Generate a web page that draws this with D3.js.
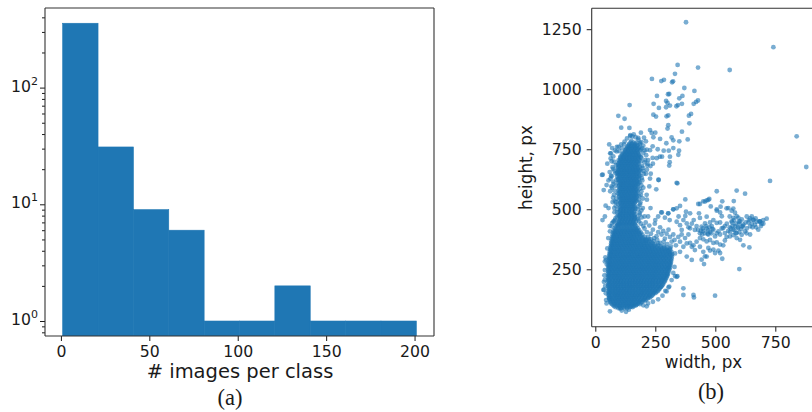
<!DOCTYPE html>
<html>
<head>
<meta charset="utf-8">
<script src="https://cdn.jsdelivr.net/npm/d3@7"></script>
<style>
  html, body { margin: 0; padding: 0; background: #fff; }
  svg { display: block; }
  text { font-family: "DejaVu Sans", sans-serif; fill: #1a1a1a; }
  .caption { font-family: "Liberation Serif", "Times New Roman", serif; }
</style>
</head>
<body>
<svg id="fig" width="812" height="412"></svg>
<script>
// ---------- (a) histogram of images per class ----------
const binEdges = [1, 21, 41, 61, 81, 101, 121, 141, 161, 181, 201];
const classCounts = [356, 31, 9, 6, 1, 1, 2, 1, 1, 1];
const histXTicks = [0, 50, 100, 150, 200];
const histYTicks = [1, 10, 100];
const histYExponents = ["0", "1", "2"];

// ---------- (b) image width vs height, px ----------
const sizeXTicks = [0, 250, 500, 750];
const sizeYTicks = [250, 500, 750, 1000, 1250];

// scattered images: upper cloud, outliers
const upperSizes = [
  [378,1279],[742,1175],[343,1101],[560,1080],[428,1090],[332,1064],[236,1043],[275,1034],[286,1039],[324,1033],[320,1029],
  [371,1005],[413,993],[257,972],[308,980],[303,979],[363,972],[350,962],[428,953],[420,947],[410,939],[243,939],[295,951],
  [301,943],[311,932],[338,929],[344,934],[361,939],[265,922],[295,925],[143,934],[242,894],[253,886],[304,891],[297,887],
  [399,897],[390,890],[96,889],[122,877],[108,840],[142,839],[304,850],[301,836],[392,858],[361,823],[228,830],[235,818],
  [250,819],[146,809],[154,803],[190,819],[203,798],[242,800],[270,793],[325,787],[385,791],[296,775],[260,750],[228,746],
  [285,744],[306,744],[349,744],[311,719],[278,719],[269,719],[239,714],[217,682],[231,648],[211,648],[310,696],[308,682],
  [264,622],[342,608],[254,583],[728,618],[839,804],[879,676],[65,733],[28,643],
  [256,713],[346,727],[89,741],[186,776],[211,783],[179,797],[318,799],[350,783],[239,762],[325,755]
];

// images along the right arm (landscape) and the bridge to it
const wideSizes = [
  [205,420],[215,405],[225,432],[232,398],[240,415],[248,440],[255,388],[262,405],[270,425],[276,395],[283,410],[290,378],
  [297,398],[305,415],[311,385],[318,365],[325,395],[330,372],[336,350],[315,345],[300,355],[285,365],[270,360],[258,372],
  [245,380],[232,375],[220,385],[210,370],[250,455],[262,470],[275,487],[290,465],[304,483],[310,455],[325,500],[339,448],
  [347,470],[353,434],[360,414],[367,455],[375,472],[381,441],[388,425],[395,421],[402,440],[410,455],[415,414],[422,430],
  [429,414],[436,400],[443,428],[450,410],[457,441],[464,420],[471,395],[478,405],[485,430],[492,415],[499,387],[506,400],
  [513,408],[520,395],[527,420],[533,422],[540,401],[547,385],[554,410],[561,387],[568,450],[575,415],[582,430],[589,401],
  [596,422],[603,450],[610,394],[617,436],[624,408],[631,420],[638,445],[645,429],[652,440],[658,457],[665,436],[672,448],
  [679,415],[686,450],[693,440],[700,455],[714,461],[589,380],[603,373],[575,392],[561,405],[540,370],[533,350],[520,353],
  [506,362],[492,360],[478,372],[471,339],[464,366],[450,375],[436,380],[422,365],[409,350],[402,344],[395,360],[381,358],
  [367,344],[353,365],[346,385],[360,395],[374,380],[388,395],[415,330],[436,344],[450,323],[464,303],[443,290],[453,272],
  [457,304],[478,328],[492,332],[513,328],[520,318],[529,294],[499,318],[381,303],[402,289],[353,323],[332,316],[311,337],
  [617,350],[642,341],[600,251],[499,140],[367,171],[367,143],[409,143],[411,133],[308,178],[339,219],[277,205],[274,177],
  [332,222],[645,462],[659,455],[686,448],[683,450],[568,494],[582,486],[547,504],[522,511],[506,500],[575,503],[554,505],
  [520,487],[527,471],[506,494],[481,512],[475,543],[464,537],[450,533],[436,522],[529,533],[577,534],[589,578],[624,565],
  [506,575],[432,483],[395,483],[378,490],[353,514],[339,504],[325,500],[304,483],[277,487],[429,522],[457,532],[471,539],
  [375,541],[436,464],[575,464],[589,471],[596,465],[610,458],[631,470],[652,470],[668,462],[560,470],[548,440],[520,445],
  [506,443],[492,455],[478,445],[464,469],[600,440],[612,428],[626,445],[640,455],[655,425],[670,425],[690,430],[700,440],
  [630,400],[645,395],[540,430],[560,425],
  [440,410],[448,420],[456,400],[462,430],[470,412],[476,425],[484,400],[488,418],[445,395],[468,398],[565,420],[572,430],
  [580,412],[586,440],[594,425],[600,405],[608,418],[615,430],[570,445],[598,448],[585,400],[578,455]
];

// loose images around the tall arm and the main cluster
const fringeSizes = [
  [62,733],[50,690],[68,700],[75,720],[82,745],[90,760],[72,675],[60,655],[80,660],[66,640],[55,620],[75,615],[85,598],
  [70,590],[62,575],[78,560],[88,545],[72,530],[85,515],[92,500],[80,488],[90,470],[82,455],[70,442],[60,430],[190,700],
  [195,680],[200,660],[188,640],[196,620],[192,600],[185,585],[190,560],[182,540],[186,520],[178,500],[184,485],[176,465],
  [182,450],[190,440],[205,745],[212,725],[208,705],[218,690],[200,765],[192,780],[180,790],[150,785],[120,770],[110,755],
  [100,742],[47,601],[35,580],[43,515],[55,505],[40,470],[30,455],[228,628],[263,623],[339,610],[214,560],[205,470],
  [198,505],[31,644],[68,637],[82,533],[78,450],[68,429],[61,408],[54,380],
  [58,770],[70,755],[64,712],[78,698],[86,684],[74,668],[84,650],[63,628],[76,606],[88,622],[67,595],[80,578],[93,566],
  [74,548],[86,530],[95,520],[79,505],[91,488],[96,475],[84,462],[75,448],[95,435],[186,770],[195,755],[200,735],[214,748],
  [192,715],[205,695],[198,672],[188,660],[202,648],[194,630],[185,612],[200,590],[192,575],[183,555],[198,545],[188,528],
  [180,512],[192,495],[185,478],[178,458],[193,466],[200,430],[210,445],[168,800],[145,805],[132,795],[160,812],[122,782],
  [108,770],[97,760],[220,705],[230,680],[215,665],[240,690],[225,595],[215,540],[230,505],[220,470],
  [50,337],[45,289],[40,247],[36,198],[34,164],[45,122],[47,108],[42,300],[38,225],[44,150],[48,270],[41,180],[40,283],
  [36,165],[40,207],[128,73],[103,87],[110,78],[140,82],[150,95],[170,100],[185,105],[61,75],[214,96],[330,260],[325,235],
  [318,205],[305,175],[292,160],[280,140],[262,125],[240,115],[220,108],[200,100],[297,158],[342,221]
];

// dense column of tall images: [height, widths...]
const armRows = [
  [430, 86, 98, 110, 122, 134, 146, 158, 171],
  [439, 92, 104, 116, 128, 140, 152, 164],
  [448, 97, 109, 121, 133, 145, 157, 169],
  [457, 102, 114, 126, 138, 150, 162],
  [466, 106, 118, 130, 142, 154, 165],
  [475, 103, 115, 127, 139, 151, 163],
  [484, 107, 119, 131, 143, 155],
  [493, 104, 116, 128, 140, 152, 164],
  [502, 108, 120, 132, 144, 156, 167],
  [511, 105, 117, 129, 141, 153, 165],
  [520, 109, 121, 133, 145, 157],
  [529, 104, 116, 128, 140, 152, 164],
  [538, 100, 112, 124, 136, 148, 160, 172],
  [547, 106, 118, 130, 142, 154, 166],
  [556, 101, 113, 125, 137, 149, 161, 174],
  [565, 97, 109, 121, 133, 145, 157, 169],
  [574, 103, 115, 127, 139, 151, 163, 176],
  [583, 99, 111, 123, 135, 147, 159, 171],
  [592, 104, 116, 128, 140, 152, 164, 177],
  [601, 100, 112, 124, 136, 148, 160, 172],
  [610, 95, 107, 119, 131, 143, 155, 167, 180],
  [619, 101, 113, 125, 137, 149, 161, 173],
  [628, 96, 108, 120, 132, 144, 156, 168, 181],
  [637, 91, 103, 115, 127, 139, 151, 163, 175],
  [646, 97, 109, 121, 133, 145, 157, 169, 182],
  [655, 92, 104, 116, 128, 140, 152, 164, 176],
  [664, 98, 110, 122, 134, 146, 158, 170, 184],
  [673, 94, 106, 118, 130, 142, 154, 166, 178],
  [682, 100, 112, 124, 136, 148, 160, 172],
  [691, 96, 108, 120, 132, 144, 156, 168, 181],
  [700, 102, 114, 126, 138, 150, 162, 174],
  [709, 108, 120, 132, 144, 156, 168, 180],
  [718, 104, 116, 128, 140, 152, 164, 176, 189],
  [727, 111, 123, 135, 147, 159, 171, 183],
  [736, 118, 130, 142, 154, 166, 178],
  [745, 124, 136, 148, 160, 172, 185],
  [754, 130, 142, 154, 166, 178],
  [763, 136, 148, 160, 172],
  [772, 141, 153, 166],
  // second pass, between the rows above
  [434, 92, 104, 116, 128, 140, 152, 165],
  [443, 98, 110, 122, 134, 146, 158],
  [452, 100, 112, 124, 136, 148, 160],
  [461, 104, 116, 128, 140, 152, 164],
  [470, 100, 112, 124, 136, 148, 160],
  [479, 105, 117, 129, 141, 153, 166],
  [488, 101, 113, 125, 137, 149, 161],
  [497, 106, 118, 130, 142, 154],
  [506, 102, 114, 126, 138, 150, 162],
  [515, 111, 123, 135, 147, 159],
  [524, 103, 115, 127, 139, 151, 163],
  [533, 110, 122, 134, 146, 158, 170],
  [542, 106, 118, 130, 142, 154, 166],
  [551, 100, 112, 124, 136, 148, 160, 172],
  [560, 107, 119, 131, 143, 155, 167],
  [569, 103, 115, 127, 139, 151, 163, 175],
  [578, 97, 109, 121, 133, 145, 157, 169],
  [587, 105, 117, 129, 141, 153, 165],
  [596, 98, 110, 122, 134, 146, 158, 170],
  [605, 106, 118, 130, 142, 154, 166, 178],
  [614, 101, 113, 125, 137, 149, 161, 174],
  [623, 95, 107, 119, 131, 143, 155, 167, 180],
  [632, 102, 114, 126, 138, 150, 162, 174],
  [641, 97, 109, 121, 133, 145, 157, 169, 183],
  [650, 91, 103, 115, 127, 139, 151, 163, 175],
  [659, 98, 110, 122, 134, 146, 158, 170, 182],
  [668, 93, 105, 117, 129, 141, 153, 165, 177],
  [677, 100, 112, 124, 136, 148, 160, 172, 185],
  [686, 94, 106, 118, 130, 142, 154, 166, 178],
  [695, 102, 114, 126, 138, 150, 162, 175],
  [704, 97, 109, 121, 133, 145, 157, 169, 183],
  [713, 104, 116, 128, 140, 152, 164, 177],
  [722, 110, 122, 134, 146, 158, 170, 182],
  [731, 117, 129, 141, 153, 165, 178],
  [740, 124, 136, 148, 160, 172],
  [749, 128, 140, 152, 164, 176, 190],
  [758, 134, 146, 158, 170, 183],
  [767, 140, 152, 164, 176],
  [777, 147, 159, 171]
];

// dense main cluster of small images: [height, widths...]
const blobRows = [
  [88, 96, 108, 121, 133],
  [97, 78, 90, 101, 113, 126, 138, 150, 161],
  [106, 68, 80, 93, 104, 117, 129, 140, 152, 165, 176],
  [115, 62, 74, 86, 98, 111, 123, 134, 147, 158, 171, 183, 195],
  [124, 59, 69, 81, 93, 105, 116, 129, 141, 152, 164, 176, 189, 201, 212],
  [133, 57, 64, 76, 88, 99, 111, 123, 135, 147, 159, 170, 182, 195, 207, 219, 228],
  [142, 55, 70, 82, 93, 105, 117, 129, 141, 153, 165, 177, 188, 200, 213, 225, 238],
  [151, 56, 64, 76, 87, 99, 111, 123, 135, 146, 158, 171, 183, 194, 206, 219, 231, 244, 251],
  [160, 54, 69, 81, 93, 104, 116, 128, 140, 152, 164, 176, 188, 200, 212, 224, 236, 249, 261],
  [169, 55, 63, 75, 87, 98, 110, 122, 134, 146, 158, 170, 182, 194, 206, 218, 230, 243, 255, 268],
  [178, 53, 68, 80, 92, 104, 116, 128, 140, 151, 163, 175, 187, 199, 211, 223, 236, 248, 261, 275],
  [187, 54, 62, 74, 86, 98, 110, 121, 133, 145, 157, 169, 181, 193, 205, 217, 229, 241, 254, 267, 282],
  [196, 52, 67, 79, 91, 103, 115, 127, 139, 151, 163, 175, 187, 199, 211, 223, 235, 247, 260, 273, 287],
  [205, 53, 61, 73, 85, 97, 109, 121, 133, 145, 157, 169, 181, 193, 205, 217, 229, 241, 253, 266, 279, 292],
  [214, 52, 67, 79, 91, 103, 115, 127, 139, 151, 163, 175, 187, 199, 211, 223, 235, 247, 259, 272, 285, 296],
  [223, 53, 60, 72, 84, 96, 108, 120, 132, 144, 156, 168, 180, 192, 204, 216, 228, 240, 252, 265, 278, 290, 300],
  [232, 52, 66, 78, 90, 102, 114, 126, 138, 150, 162, 174, 186, 198, 210, 222, 234, 246, 258, 271, 284, 297, 303],
  [241, 54, 61, 73, 85, 97, 109, 121, 133, 145, 157, 169, 181, 193, 205, 217, 229, 241, 253, 265, 278, 291, 306],
  [250, 53, 67, 79, 91, 103, 115, 127, 139, 151, 163, 175, 187, 199, 211, 223, 235, 247, 259, 272, 285, 298, 309],
  [259, 55, 62, 74, 86, 98, 110, 122, 134, 146, 158, 170, 182, 194, 206, 218, 230, 242, 254, 266, 279, 292, 304, 311],
  [268, 54, 68, 80, 92, 104, 116, 128, 140, 152, 164, 176, 188, 200, 212, 224, 236, 248, 260, 273, 286, 299, 313],
  [277, 56, 63, 75, 87, 99, 111, 123, 135, 147, 159, 171, 183, 195, 207, 219, 231, 243, 255, 267, 280, 293, 306, 315],
  [286, 55, 69, 81, 93, 105, 117, 129, 141, 153, 165, 177, 189, 201, 213, 225, 237, 249, 261, 274, 287, 300, 316],
  [295, 57, 64, 76, 88, 100, 112, 124, 136, 148, 160, 172, 184, 196, 208, 220, 232, 244, 256, 268, 281, 294, 307, 318],
  [304, 58, 70, 82, 94, 106, 118, 130, 142, 154, 166, 178, 190, 202, 214, 226, 238, 250, 262, 275, 288, 301, 319],
  [313, 59, 66, 78, 90, 102, 114, 126, 138, 150, 162, 174, 186, 198, 210, 222, 234, 246, 258, 270, 283, 296, 309, 320],
  [322, 60, 72, 84, 96, 108, 120, 132, 144, 156, 168, 180, 192, 204, 216, 228, 240, 252, 264, 277, 290, 304, 317],
  [331, 62, 68, 80, 92, 104, 116, 128, 140, 152, 164, 176, 188, 200, 212, 224, 236, 248, 261, 274, 288, 301, 312],
  [340, 63, 74, 86, 98, 110, 122, 134, 146, 158, 170, 182, 194, 206, 218, 230, 243, 257, 272, 287, 300],
  [349, 65, 71, 83, 95, 107, 119, 131, 143, 155, 167, 179, 191, 203, 216, 229, 244, 262, 285],
  [358, 66, 77, 89, 101, 113, 125, 137, 149, 161, 173, 185, 197, 210, 224, 240, 262],
  [367, 67, 74, 86, 98, 110, 122, 134, 146, 158, 170, 182, 195, 209, 225, 243],
  [376, 69, 80, 92, 104, 116, 128, 140, 152, 164, 177, 191, 207, 224],
  [385, 71, 78, 90, 102, 114, 126, 138, 150, 162, 175, 189, 206],
  [394, 72, 84, 96, 108, 120, 132, 144, 156, 168, 181, 196],
  [403, 74, 82, 94, 106, 118, 130, 142, 154, 167, 180, 190],
  [412, 77, 89, 101, 113, 125, 137, 149, 161, 173, 183],
  [421, 82, 94, 106, 118, 130, 142, 154, 166, 177],
  // second pass, between the rows above
  [93, 84, 102, 119, 132, 144, 156],
  [102, 73, 85, 97, 110, 122, 134, 146, 158, 170],
  [111, 65, 80, 92, 105, 117, 129, 141, 154, 166, 180, 190],
  [120, 62, 75, 87, 99, 112, 124, 136, 149, 161, 173, 186, 200, 208],
  [129, 58, 70, 82, 94, 106, 118, 130, 142, 155, 167, 179, 192, 206, 220],
  [138, 60, 76, 88, 100, 112, 124, 136, 148, 160, 172, 184, 197, 210, 224, 233],
  [147, 58, 70, 82, 94, 106, 118, 130, 142, 154, 166, 178, 190, 202, 214, 226, 240],
  [156, 60, 74, 86, 98, 110, 122, 134, 146, 158, 170, 182, 194, 206, 218, 230, 243, 255],
  [165, 58, 70, 82, 94, 106, 118, 130, 142, 154, 166, 178, 190, 202, 214, 226, 238, 250, 264],
  [174, 60, 73, 85, 97, 109, 121, 133, 145, 157, 169, 181, 193, 205, 217, 229, 242, 256, 270],
  [183, 57, 69, 81, 93, 105, 117, 129, 141, 153, 165, 177, 189, 201, 213, 225, 237, 250, 263, 278],
  [192, 59, 72, 84, 96, 108, 120, 132, 144, 156, 168, 180, 192, 204, 216, 228, 240, 253, 266, 280],
  [201, 57, 70, 82, 94, 106, 118, 130, 142, 154, 166, 178, 190, 202, 214, 226, 238, 250, 263, 276, 288],
  [210, 58, 73, 85, 97, 109, 121, 133, 145, 157, 169, 181, 193, 205, 217, 229, 241, 253, 266, 279, 291],
  [219, 57, 66, 78, 90, 102, 114, 126, 138, 150, 162, 174, 186, 198, 210, 222, 234, 246, 258, 271, 284, 296],
  [228, 58, 72, 84, 96, 108, 120, 132, 144, 156, 168, 180, 192, 204, 216, 228, 240, 252, 264, 277, 290, 300],
  [237, 57, 67, 79, 91, 103, 115, 127, 139, 151, 163, 175, 187, 199, 211, 223, 235, 247, 259, 272, 285, 299],
  [246, 59, 73, 85, 97, 109, 121, 133, 145, 157, 169, 181, 193, 205, 217, 229, 241, 253, 265, 278, 292, 303],
  [255, 58, 68, 80, 92, 104, 116, 128, 140, 152, 164, 176, 188, 200, 212, 224, 236, 248, 260, 273, 286, 300, 307],
  [264, 60, 74, 86, 98, 110, 122, 134, 146, 158, 170, 182, 194, 206, 218, 230, 242, 254, 266, 279, 292, 306],
  [273, 59, 69, 81, 93, 105, 117, 129, 141, 153, 165, 177, 189, 201, 213, 225, 237, 249, 261, 274, 287, 300, 311],
  [282, 61, 75, 87, 99, 111, 123, 135, 147, 159, 171, 183, 195, 207, 219, 231, 243, 255, 268, 281, 294, 308],
  [291, 60, 70, 82, 94, 106, 118, 130, 142, 154, 166, 178, 190, 202, 214, 226, 238, 250, 262, 275, 288, 301, 313],
  [300, 62, 76, 88, 100, 112, 124, 136, 148, 160, 172, 184, 196, 208, 220, 232, 244, 256, 269, 282, 295, 310],
  [309, 63, 72, 84, 96, 108, 120, 132, 144, 156, 168, 180, 192, 204, 216, 228, 240, 252, 264, 277, 290, 303, 314],
  [318, 64, 78, 90, 102, 114, 126, 138, 150, 162, 174, 186, 198, 210, 222, 234, 246, 258, 271, 284, 298, 311],
  [327, 66, 74, 86, 98, 110, 122, 134, 146, 158, 170, 182, 194, 206, 218, 230, 242, 255, 268, 281, 295, 306],
  [336, 67, 80, 92, 104, 116, 128, 140, 152, 164, 176, 188, 200, 212, 224, 237, 250, 264, 279, 293],
  [345, 68, 77, 89, 101, 113, 125, 137, 149, 161, 173, 185, 197, 209, 222, 236, 252, 272],
  [354, 70, 83, 95, 107, 119, 131, 143, 155, 167, 179, 191, 204, 217, 232, 250],
  [363, 71, 80, 92, 104, 116, 128, 140, 152, 164, 176, 189, 202, 217, 234],
  [372, 73, 86, 98, 110, 122, 134, 146, 158, 170, 184, 199, 215],
  [381, 75, 84, 96, 108, 120, 132, 144, 156, 168, 182, 197],
  [390, 77, 90, 102, 114, 126, 138, 150, 162, 174, 188],
  [399, 79, 88, 100, 112, 124, 136, 148, 160, 173, 185],
  [408, 82, 95, 107, 119, 131, 143, 155, 167, 178],
  [417, 86, 100, 112, 124, 136, 148, 160, 171]
];

// ---------------------------------------------------------------
const C0 = "#1f77b4";
const INK = "#1a1a1a";
const svg = d3.select("#fig");
const defs = svg.append("defs");

function styleAxis(g) {
  g.select(".domain").remove();
  g.selectAll(".tick line").attr("stroke", INK).attr("stroke-width", 1);
  g.selectAll(".tick text").attr("fill", INK).attr("font-size", 15.7)
    .attr("font-family", "DejaVu Sans, sans-serif");
}

function frame(g, box, sides) {
  const path = [];
  if (sides.includes("l")) path.push(`M${box.left},${box.top}V${box.bottom}`);
  if (sides.includes("b")) path.push(`M${box.left},${box.bottom}H${box.right}`);
  if (sides.includes("r")) path.push(`M${box.right},${box.top}V${box.bottom}`);
  if (sides.includes("t")) path.push(`M${box.left},${box.top}H${box.right}`);
  g.append("path").attr("d", path.join("")).attr("fill", "none")
    .attr("stroke", "#333").attr("stroke-width", 1.1);
}

// ======================= panel (a) =============================
const A = { left: 45, right: 434, top: 8, bottom: 336 };
const xa = d3.scaleLinear().domain([-9, 211]).range([A.left, A.right]);
const ya = d3.scaleLog().domain([0.744, 481]).range([A.bottom, A.top]);
const ga = svg.append("g");

defs.append("clipPath").attr("id", "clipA").append("rect")
  .attr("x", A.left).attr("y", A.top).attr("width", A.right - A.left).attr("height", A.bottom - A.top);

ga.append("g").attr("clip-path", "url(#clipA)")
  .selectAll("rect").data(classCounts).join("rect")
  .attr("x", (d, i) => xa(binEdges[i]))
  .attr("width", (d, i) => xa(binEdges[i + 1]) - xa(binEdges[i]))
  .attr("y", d => ya(d))
  .attr("height", d => A.bottom - ya(d))
  .attr("fill", C0).attr("stroke", C0).attr("stroke-width", 0.6);

// x axis
ga.append("g").attr("transform", `translate(0,${A.bottom})`)
  .call(d3.axisBottom(xa).tickValues(histXTicks).tickSize(5).tickPadding(4.5).tickFormat(d3.format("d")))
  .call(styleAxis);

// y axis: minor ticks
const minorA = ya.ticks().filter(v => !histYTicks.includes(v));
ga.append("g").attr("transform", `translate(${A.left},0)`)
  .call(d3.axisLeft(ya).tickValues(minorA).tickSize(3).tickFormat(""))
  .call(styleAxis);

// y axis: major ticks with power-of-ten labels
const gyA = ga.append("g").attr("transform", `translate(${A.left},0)`)
  .call(d3.axisLeft(ya).tickValues(histYTicks).tickSize(5).tickFormat(""))
  .call(styleAxis);
gyA.selectAll(".tick").each(function (d, i) {
  const t = d3.select(this).append("text")
    .attr("x", -7).attr("y", 0).attr("dy", "0.36em")
    .attr("text-anchor", "end").attr("fill", INK);
  t.append("tspan").attr("font-size", 15.7).text("10");
  t.append("tspan").attr("font-size", 11).attr("dy", "-7").text(histYExponents[i]);
});

frame(ga, A, "lbrt");

ga.append("text").attr("x", 240).attr("y", 378).attr("text-anchor", "middle")
  .attr("font-size", 19.5).text("# images per class");
ga.append("text").attr("class", "caption").attr("x", 230).attr("y", 405)
  .attr("text-anchor", "middle").attr("font-size", 22.5).text("(a)");

// ======================= panel (b) =============================
const B = { left: 591.7, right: 817.3, top: 8.3, bottom: 326.7 };
const xb = d3.scaleLinear().domain([-15, 925]).range([B.left, B.right]);
const yb = d3.scaleLinear().domain([11, 1337]).range([B.bottom, B.top]);
const gb = svg.append("g");

defs.append("clipPath").attr("id", "clipB").append("rect")
  .attr("x", B.left).attr("y", B.top).attr("width", B.right - B.left).attr("height", B.bottom - B.top);

const rowsToPoints = rows => rows.flatMap(([h, ...ws]) => ws.map(w => [w, h]));
const imageSizes = [
  ...rowsToPoints(blobRows),
  ...rowsToPoints(armRows),
  ...fringeSizes,
  ...wideSizes,
  ...upperSizes
];

gb.append("g").attr("clip-path", "url(#clipB)")
  .selectAll("circle").data(imageSizes).join("circle")
  .attr("cx", d => xb(d[0]))
  .attr("cy", d => yb(d[1]))
  .attr("r", 2.4)
  .attr("fill", C0).attr("fill-opacity", 0.6);

gb.append("g").attr("transform", `translate(0,${B.bottom})`)
  .call(d3.axisBottom(xb).tickValues(sizeXTicks).tickSize(5).tickPadding(5).tickFormat(d3.format("d")))
  .call(styleAxis);
gb.append("g").attr("transform", `translate(${B.left},0)`)
  .call(d3.axisLeft(yb).tickValues(sizeYTicks).tickSize(5).tickPadding(5).tickFormat(d3.format("d")))
  .call(styleAxis);

frame(gb, B, "lbt");

gb.append("text").attr("x", 703.5).attr("y", 368).attr("text-anchor", "middle")
  .attr("font-size", 16.8).text("width, px");
gb.append("text").attr("transform", "translate(532,167.5) rotate(-90)")
  .attr("text-anchor", "middle").attr("font-size", 16.8).text("height, px");
gb.append("text").attr("class", "caption").attr("x", 711).attr("y", 399)
  .attr("text-anchor", "middle").attr("font-size", 22.5).text("(b)");
</script>
</body>
</html>
